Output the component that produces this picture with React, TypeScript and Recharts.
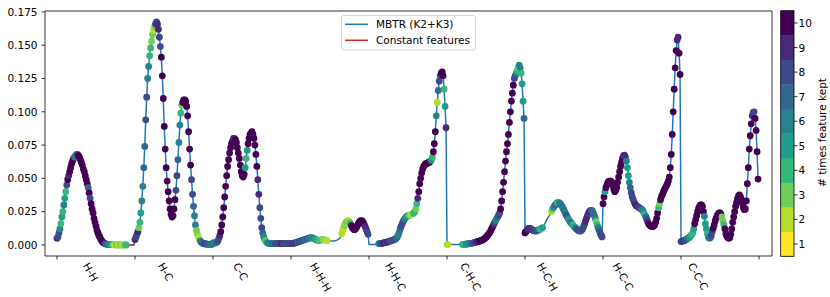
import { ComposedChart, Line, Scatter, XAxis, YAxis, ReferenceArea } from 'recharts'

// descriptor blocks along the x axis
const categories = ['H-H', 'H-C', 'C-C', 'H-H-H', 'H-H-C', 'C-H-C', 'H-C-H', 'H-C-C', 'C-C-C']
const perBlock = 80

// MBTR values, one array per block
const mbtrHH = [0.005, 0.006, 0.009, 0.012, 0.016, 0.021, 0.025, 0.030, 0.035, 0.040, 0.045, 0.049, 0.052, 0.055, 0.058, 0.061, 0.063, 0.065, 0.066, 0.067, 0.068, 0.068, 0.067, 0.066, 0.064, 0.062, 0.060, 0.057, 0.055, 0.052, 0.049, 0.046, 0.043, 0.039, 0.035, 0.031, 0.027, 0.024, 0.020, 0.017, 0.014, 0.011, 0.009, 0.007, 0.006, 0.004, 0.003, 0.002, 0.0015, 0.001, 0.0008, 0.0006, 0.0005, 0.0004, 0.0003, 0.0003, 0.0002, 0.0002, 0.0001, 0.0001, 0, 0, 0, 0, 0, 0, 0, 0, 0, 0, 0, 0, 0, 0, 0, 0, 0, 0, 0, 0]
const mbtrHC = [0.004, 0.006, 0.008, 0.010, 0.013, 0.017, 0.024, 0.033, 0.044, 0.058, 0.074, 0.094, 0.111, 0.125, 0.134, 0.142, 0.148, 0.153, 0.158, 0.161, 0.164, 0.166, 0.1675, 0.166, 0.162, 0.156, 0.149, 0.141, 0.127, 0.110, 0.089, 0.072, 0.058, 0.048, 0.040, 0.033, 0.027, 0.023, 0.021, 0.022, 0.027, 0.034, 0.041, 0.052, 0.064, 0.077, 0.090, 0.099, 0.105, 0.107, 0.109, 0.109, 0.108, 0.104, 0.097, 0.085, 0.072, 0.060, 0.049, 0.038, 0.029, 0.022, 0.015, 0.011, 0.008, 0.006, 0.004, 0.003, 0.002, 0.0015, 0.001, 0.001, 0.0008, 0.0007, 0.0006, 0.0005, 0.0005, 0.0005, 0.0005, 0.0005]
const mbtrCC = [0.0015, 0.0015, 0.0015, 0.002, 0.002, 0.003, 0.005, 0.007, 0.010, 0.015, 0.021, 0.028, 0.036, 0.044, 0.052, 0.059, 0.064, 0.069, 0.073, 0.076, 0.078, 0.080, 0.080, 0.079, 0.077, 0.073, 0.069, 0.065, 0.060, 0.055, 0.052, 0.051, 0.053, 0.058, 0.065, 0.071, 0.076, 0.080, 0.083, 0.084, 0.085, 0.083, 0.080, 0.075, 0.068, 0.059, 0.049, 0.038, 0.028, 0.020, 0.013, 0.009, 0.006, 0.004, 0.003, 0.002, 0.0015, 0.0012, 0.001, 0.001, 0.001, 0.001, 0.001, 0.001, 0.0011, 0.0012, 0.0012, 0.0011, 0.001, 0.001, 0.001, 0.001, 0.001, 0.001, 0.001, 0.001, 0.001, 0.001, 0.001, 0.001]
const mbtrHHH = [0.001, 0.0011, 0.0012, 0.0013, 0.0015, 0.0017, 0.002, 0.0022, 0.0025, 0.0027, 0.003, 0.0033, 0.0035, 0.0038, 0.004, 0.0043, 0.0045, 0.0048, 0.005, 0.0052, 0.0054, 0.0055, 0.0053, 0.005, 0.0046, 0.0042, 0.0039, 0.0036, 0.0035, 0.0035, 0.0036, 0.0038, 0.004, 0.0041, 0.004, 0.0038, 0.0035, 0.0032, 0.003, 0.003, 0.003, 0.003, 0.003, 0.003, 0.003, 0.0032, 0.0034, 0.0036, 0.004, 0.0045, 0.005, 0.0065, 0.0085, 0.011, 0.013, 0.015, 0.0165, 0.0175, 0.018, 0.018, 0.0172, 0.016, 0.0145, 0.013, 0.012, 0.0115, 0.012, 0.013, 0.0145, 0.016, 0.0172, 0.018, 0.0183, 0.018, 0.017, 0.0155, 0.014, 0.012, 0.010, 0.008]
const mbtrHHC = [0.0003, 0.0003, 0.0003, 0.0003, 0.0003, 0.0003, 0.0003, 0.0004, 0.0005, 0.0007, 0.001, 0.001, 0.0011, 0.0012, 0.0013, 0.0015, 0.0017, 0.0019, 0.002, 0.0022, 0.0025, 0.0027, 0.003, 0.0032, 0.0035, 0.0038, 0.004, 0.0045, 0.005, 0.006, 0.0075, 0.0095, 0.012, 0.014, 0.016, 0.0175, 0.019, 0.020, 0.021, 0.0215, 0.022, 0.0222, 0.0225, 0.0228, 0.023, 0.0235, 0.024, 0.025, 0.027, 0.031, 0.035, 0.040, 0.046, 0.050, 0.054, 0.057, 0.059, 0.060, 0.061, 0.061, 0.0615, 0.062, 0.062, 0.063, 0.064, 0.066, 0.070, 0.076, 0.085, 0.097, 0.107, 0.116, 0.123, 0.127, 0.129, 0.130, 0.127, 0.117, 0.104, 0.088]
const mbtrCHC = [0.0003, 0.0003, 0.0003, 0.0003, 0.0003, 0.0003, 0.0003, 0.0003, 0.0003, 0.0003, 0.0003, 0.0003, 0.0003, 0.0003, 0.0003, 0.0003, 0.0004, 0.0005, 0.0005, 0.0006, 0.0007, 0.0008, 0.0009, 0.001, 0.0011, 0.0012, 0.0014, 0.0016, 0.0018, 0.002, 0.0022, 0.0024, 0.0026, 0.0028, 0.003, 0.0033, 0.0036, 0.004, 0.0045, 0.005, 0.0058, 0.0066, 0.0075, 0.0085, 0.0095, 0.011, 0.0125, 0.014, 0.0155, 0.017, 0.0185, 0.020, 0.021, 0.0225, 0.024, 0.027, 0.033, 0.040, 0.047, 0.055, 0.063, 0.070, 0.076, 0.083, 0.092, 0.100, 0.108, 0.114, 0.120, 0.125, 0.127, 0.129, 0.131, 0.133, 0.135, 0.133, 0.129, 0.121, 0.108, 0.095]
const mbtrHCH = [0.009, 0.010, 0.011, 0.012, 0.0125, 0.0125, 0.012, 0.0115, 0.011, 0.0107, 0.0105, 0.0105, 0.0105, 0.011, 0.0113, 0.0117, 0.012, 0.0125, 0.013, 0.014, 0.0155, 0.017, 0.0185, 0.020, 0.021, 0.022, 0.0235, 0.025, 0.0265, 0.028, 0.029, 0.030, 0.031, 0.0318, 0.032, 0.0318, 0.031, 0.030, 0.029, 0.0275, 0.026, 0.0245, 0.023, 0.0215, 0.020, 0.0188, 0.0177, 0.0167, 0.0158, 0.015, 0.014, 0.0133, 0.0125, 0.012, 0.0113, 0.0107, 0.0104, 0.0104, 0.011, 0.012, 0.0135, 0.0155, 0.0178, 0.020, 0.022, 0.0238, 0.025, 0.0258, 0.026, 0.0255, 0.024, 0.0222, 0.020, 0.0175, 0.015, 0.013, 0.011, 0.009, 0.0072, 0.006]
const mbtrHCC = [0.031, 0.036, 0.040, 0.043, 0.045, 0.047, 0.048, 0.048, 0.048, 0.047, 0.045, 0.042, 0.040, 0.041, 0.043, 0.047, 0.051, 0.055, 0.059, 0.062, 0.065, 0.067, 0.0675, 0.066, 0.063, 0.058, 0.052, 0.047, 0.043, 0.039, 0.036, 0.034, 0.032, 0.0305, 0.0295, 0.029, 0.0285, 0.028, 0.0275, 0.027, 0.0265, 0.0255, 0.024, 0.0225, 0.021, 0.019, 0.017, 0.0155, 0.0148, 0.0142, 0.0138, 0.0138, 0.0142, 0.015, 0.017, 0.020, 0.024, 0.028, 0.031, 0.034, 0.0365, 0.038, 0.040, 0.0415, 0.043, 0.0445, 0.046, 0.048, 0.051, 0.058, 0.068, 0.083, 0.100, 0.117, 0.133, 0.146, 0.154, 0.156, 0.144, 0.128]
const mbtrCCC = [0.0025, 0.0027, 0.003, 0.0032, 0.0035, 0.004, 0.0045, 0.005, 0.0055, 0.006, 0.007, 0.0078, 0.009, 0.012, 0.016, 0.019, 0.022, 0.025, 0.0275, 0.029, 0.030, 0.030, 0.029, 0.025, 0.0215, 0.016, 0.012, 0.0085, 0.006, 0.005, 0.0055, 0.007, 0.010, 0.0125, 0.015, 0.018, 0.020, 0.022, 0.023, 0.024, 0.024, 0.023, 0.021, 0.018, 0.015, 0.012, 0.0085, 0.0065, 0.0055, 0.005, 0.0055, 0.008, 0.012, 0.017, 0.021, 0.025, 0.029, 0.032, 0.035, 0.037, 0.0375, 0.036, 0.034, 0.031, 0.028, 0.0265, 0.027, 0.033, 0.046, 0.058, 0.072, 0.082, 0.091, 0.097, 0.0995, 0.100, 0.095, 0.086, 0.070, 0.0495]

// times each feature was kept (0 = never, no marker)
const keptHH = [9, 8, 8, 6, 4, 5, 4, 6, 5, 4, 8, 10, 9, 10, 10, 10, 10, 10, 6, 7, 6, 8, 10, 10, 10, 10, 10, 10, 10, 10, 10, 10, 7, 10, 8, 10, 10, 10, 10, 10, 10, 10, 10, 10, 10, 10, 10, 10, 10, 9, 8, 7, 7, 6, 6, 5, 5, 4, 3, 2, 2, 3, 3, 2, 2, 3, 3, 2, 2, 3, 3, 4, 0, 0, 0, 0, 0, 0, 0, 0]
const keptHC = [9, 8, 8, 9, 3, 4, 5, 6, 6, 7, 7, 8, 8, 6, 6, 4, 4, 3, 3, 2, 3, 8, 8, 9, 9, 8, 8, 10, 10, 10, 10, 10, 10, 10, 10, 10, 10, 10, 10, 10, 10, 10, 8, 8, 7, 6, 6, 4, 3, 10, 10, 10, 10, 10, 10, 10, 10, 10, 8, 8, 7, 6, 6, 3, 3, 2, 2, 6, 6, 7, 7, 8, 8, 8, 8, 7, 7, 7, 6, 7]
const keptCC = [7, 6, 6, 7, 7, 8, 8, 9, 10, 10, 10, 10, 10, 10, 10, 10, 10, 10, 10, 10, 10, 9, 9, 10, 10, 10, 10, 10, 10, 10, 10, 10, 10, 5, 4, 5, 10, 10, 10, 10, 10, 10, 10, 10, 10, 10, 9, 9, 8, 8, 8, 7, 6, 5, 3, 4, 6, 6, 7, 6, 6, 7, 7, 6, 8, 8, 8, 8, 8, 8, 9, 9, 8, 8, 8, 8, 8, 8, 8, 8]
const keptHHH = [8, 8, 9, 8, 8, 9, 8, 7, 8, 8, 7, 8, 7, 8, 7, 6, 7, 8, 6, 6, 7, 6, 5, 6, 6, 5, 4, 5, 4, 4, 3, 4, 3, 3, 2, 3, 2, 2, 0, 0, 0, 0, 0, 0, 0, 0, 0, 0, 0, 0, 0, 0, 2, 2, 2, 3, 2, 3, 3, 2, 3, 4, 10, 10, 10, 10, 10, 10, 10, 10, 10, 10, 10, 10, 10, 10, 9, 9, 8, 8]
const keptHHC = [0, 0, 0, 0, 0, 0, 0, 0, 0, 0, 6, 6, 8, 8, 8, 9, 9, 9, 8, 9, 9, 8, 8, 8, 7, 8, 8, 8, 7, 7, 6, 6, 7, 8, 8, 8, 7, 6, 6, 5, 5, 4, 3, 2, 2, 3, 4, 4, 3, 4, 9, 10, 10, 10, 10, 10, 10, 10, 10, 10, 10, 10, 10, 9, 5, 4, 10, 10, 10, 6, 2, 7, 8, 8, 10, 10, 10, 4, 5, 9]
const keptCHC = [2, 2, 0, 0, 0, 0, 0, 0, 0, 0, 0, 0, 0, 0, 0, 0, 5, 4, 4, 5, 5, 6, 5, 6, 6, 7, 7, 8, 8, 8, 9, 9, 9, 10, 10, 10, 10, 10, 10, 10, 10, 10, 10, 10, 10, 10, 10, 10, 9, 8, 6, 6, 7, 8, 8, 10, 10, 10, 10, 10, 10, 10, 10, 10, 10, 10, 10, 10, 10, 8, 8, 6, 4, 3, 6, 6, 4, 5, 5, 7]
const keptHCH = [10, 10, 10, 9, 9, 9, 9, 8, 9, 8, 8, 8, 8, 7, 8, 5, 4, 4, 5, 0, 0, 0, 0, 0, 0, 0, 0, 2, 3, 5, 6, 7, 7, 4, 4, 5, 7, 6, 7, 6, 7, 6, 7, 8, 6, 5, 5, 7, 6, 4, 4, 5, 7, 7, 8, 8, 8, 7, 8, 8, 8, 8, 9, 9, 9, 8, 9, 9, 8, 7, 7, 7, 6, 3, 4, 6, 7, 8, 8, 8]
const keptHCC = [10, 10, 5, 10, 10, 10, 10, 10, 10, 10, 10, 10, 10, 10, 10, 10, 10, 10, 10, 10, 10, 9, 9, 9, 6, 5, 5, 6, 7, 8, 8, 8, 8, 9, 9, 9, 9, 8, 8, 8, 6, 6, 5, 4, 7, 8, 9, 10, 10, 10, 10, 10, 10, 10, 10, 10, 10, 4, 3, 10, 10, 10, 10, 10, 10, 10, 10, 10, 10, 10, 10, 10, 10, 10, 10, 10, 9, 9, 10, 10]
const keptCCC = [8, 8, 9, 8, 8, 8, 7, 7, 6, 5, 5, 4, 4, 5, 10, 10, 10, 10, 10, 10, 10, 10, 10, 10, 6, 5, 5, 4, 5, 6, 7, 8, 8, 10, 10, 10, 10, 10, 10, 10, 10, 10, 3, 3, 4, 10, 10, 10, 10, 10, 10, 10, 10, 10, 10, 10, 10, 10, 10, 10, 10, 10, 10, 10, 10, 10, 10, 10, 10, 10, 10, 10, 10, 9, 8, 8, 10, 10, 10, 10]

// feature indices that are constant across the dataset
const constantIdx = [72, 73, 74, 75, 76, 77, 78, 79]

// where the block names sit on the x axis
const labelPos = [34.7, 111.6, 188.5, 270.6, 347.5, 424.4, 503.1, 580.8, 657.7]
const blockTicks = [0, 80, 160, 240, 320, 400, 480, 560, 640, 720]
const yTicks = [0, 0.025, 0.05, 0.075, 0.1, 0.125, 0.15, 0.175]
const keptLevels = [1, 2, 3, 4, 5, 6, 7, 8, 9, 10]

const viridisR = ['#fde725', '#b5de2b', '#6ece58', '#35b779', '#1f9e89', '#26828e', '#31688e', '#3e4989', '#482878', '#440154']
const keptColor = (k: number) => viridisR[k - 1]

const mbtr = [mbtrHH, mbtrHC, mbtrCC, mbtrHHH, mbtrHHC, mbtrCHC, mbtrHCH, mbtrHCC, mbtrCCC]
const kept = [keptHH, keptHC, keptCC, keptHHH, keptHHC, keptCHC, keptHCH, keptHCC, keptCCC]

const rows = mbtr.flatMap((vals, b) => vals.map((v, i) => ({ x: b * perBlock + i, v, kept: kept[b][i] })))
const dots = rows.filter((r) => r.kept > 0)
const constRows = rows.filter((r) => constantIdx.includes(r.x))

const FONT = 'DejaVu Sans'
const FS = 10.5
const xDomain: [number, number] = [-12.3, 733.3]
const yDomain: [number, number] = [-0.0083, 0.1757]

const glyphW: Record<string, number> = { H: 0.752, C: 0.698, '-': 0.361 }
const textW = (s: string) => s.split('').reduce((a, c) => a + (glyphW[c] ?? 0.6), 0) * FS

function XTick(props: any) {
  const { x, y, payload } = props
  const idx = labelPos.indexOf(payload.value)
  if (idx < 0) return <line x1={x} x2={x} y1={y} y2={y + 3.5} stroke="#000" strokeWidth={0.8} />
  const name = categories[idx]
  const cy = y + 5.5 + (textW(name) * 0.866 + 7.7 * 0.5) / 2
  return (
    <text transform={`translate(${x},${cy}) rotate(60)`} textAnchor="middle" dominantBaseline="central"
      fontSize={FS} fontFamily={FONT} fill="#000">{name}</text>
  )
}

function Overlay() {
  const top = 10.7, bottom = 256.3, h = (bottom - top) / keptLevels.length
  return (
    <svg width={830} height={297} style={{ position: 'absolute', left: 0, top: 0, pointerEvents: 'none' }}
      fontFamily={FONT} fontSize={FS}>
      {/* legend */}
      <rect x={341.5} y={15.5} width={134} height={34.5} rx={2.5} fill="#fff" fillOpacity={0.8} stroke="#cccccc" strokeWidth={0.8} />
      <line x1={345} x2={368} y1={24.3} y2={24.3} stroke="#1f77b4" strokeWidth={1.5} />
      <text x={376} y={24.3} dominantBaseline="central" fill="#000">MBTR (K2+K3)</text>
      <line x1={345} x2={368} y1={40.3} y2={40.3} stroke="#d62728" strokeWidth={1.5} />
      <text x={376} y={40.3} dominantBaseline="central" fill="#000">Constant features</text>
      {/* colorbar */}
      {keptLevels.map((k, i) => (
        <rect key={k} x={780.7} y={bottom - (i + 1) * h} width={13.3} height={h + 0.3} fill={keptColor(k)} />
      ))}
      <rect x={780.7} y={top} width={13.3} height={bottom - top} fill="none" stroke="#000" strokeWidth={0.8} />
      {keptLevels.map((k, i) => (
        <g key={k}>
          <line x1={794} x2={797.5} y1={bottom - (i + 0.5) * h} y2={bottom - (i + 0.5) * h} stroke="#000" strokeWidth={0.8} />
          <text x={798.5} y={bottom - (i + 0.5) * h} dominantBaseline="central" fill="#000">{k}</text>
        </g>
      ))}
      <text transform="translate(821.5,132.5) rotate(-90)" textAnchor="middle" dominantBaseline="central" fill="#000">
        # times feature kept
      </text>
    </svg>
  )
}

export default function App() {
  return (
    <div style={{ position: 'absolute', left: 0, top: 0, width: 830, height: 297, background: '#fff' }}>
      <ComposedChart width={830} height={297} data={rows} margin={{ top: 11, right: 58, bottom: 0, left: 0 }}>
        <XAxis dataKey="x" type="number" domain={xDomain} allowDataOverflow ticks={[...blockTicks, ...labelPos].sort((a, b) => a - b)}
          interval={0} tick={<XTick />} tickLine={false} axisLine={false} tickSize={0} tickMargin={0} height={41} />
        <YAxis type="number" domain={yDomain} allowDataOverflow ticks={yTicks} interval={0} width={45}
          tickFormatter={(v: number) => v.toFixed(3)} tickSize={3.5} tickMargin={4} axisLine={false}
          tickLine={{ stroke: '#000', strokeWidth: 0.8 }} tick={{ fontSize: FS, fontFamily: FONT, fill: '#000' }} />
        <Scatter data={dots} dataKey="v" isAnimationActive={false}
          shape={(p: any) => <circle cx={p.cx} cy={p.cy} r={3.4} fill={keptColor(p.payload.kept)} />} />
        <Line dataKey="v" type="linear" stroke="#1f77b4" strokeWidth={1.5} dot={false} isAnimationActive={false} />
        <Line data={constRows} dataKey="v" type="linear" stroke="#d62728" strokeWidth={1.5} dot={false} isAnimationActive={false} />
        <ReferenceArea x1={xDomain[0]} x2={xDomain[1]} y1={yDomain[0]} y2={yDomain[1]} fill="none" stroke="#000"
          strokeWidth={0.8} ifOverflow="visible" />
      </ComposedChart>
      <Overlay />
    </div>
  )
}
